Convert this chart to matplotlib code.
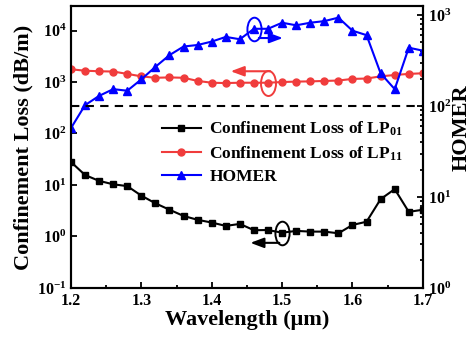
import numpy as np
import matplotlib
matplotlib.use("Agg")
import matplotlib.pyplot as plt
from matplotlib.path import Path
from matplotlib.transforms import Affine2D
from matplotlib.ticker import MultipleLocator, LogLocator, NullLocator

plt.rcParams['font.family'] = 'Liberation Serif'
plt.rcParams['font.weight'] = 'bold'
plt.rcParams['mathtext.fontset'] = 'custom'
plt.rcParams['mathtext.rm'] = 'Liberation Serif:bold'
plt.rcParams['mathtext.bf'] = 'Liberation Serif:bold'
plt.rcParams['mathtext.it'] = 'Liberation Serif:bold:italic'

# wavelength (um)
wl = [1.20, 1.22, 1.24, 1.26, 1.28, 1.30, 1.32, 1.34, 1.36, 1.38, 1.40, 1.42, 1.44,
      1.46, 1.48, 1.50, 1.52, 1.54, 1.56, 1.58, 1.60, 1.62, 1.64, 1.66, 1.68, 1.70]
# confinement loss LP01 (dB/m)
lp01 = [28, 15.6, 12, 10.3, 9.5, 6.2, 4.4, 3.3, 2.5, 2.1, 1.86, 1.6, 1.75,
        1.32, 1.33, 1.18, 1.28, 1.24, 1.24, 1.15, 1.67, 1.93, 5.3, 8.3, 3.0, 3.3]
# confinement loss LP11 (dB/m)
lp11 = [1770, 1660, 1620, 1600, 1440, 1290, 1210, 1230, 1210, 1050, 970, 955, 970,
        970, 970, 1000, 1020, 1030, 1050, 1070, 1150, 1170, 1290, 1370, 1440, 1480]
# HOMER
homer = [57, 102, 129, 153, 147, 196, 269, 362, 450, 468, 510, 574, 541,
         705, 705, 822, 770, 822, 856, 935, 672, 600, 228, 153, 437, 405]

fig = plt.figure(figsize=(4.73, 3.46), dpi=100)
ax = fig.add_axes([0.150, 0.168, 0.744, 0.815])
ax2 = ax.twinx()

red = '#f03c3c'
l1, = ax.plot(wl, lp01, '-s', color='black', ms=4.8, lw=1.5,
              label='Confinement Loss of LP$_{01}$')
l2, = ax.plot(wl, lp11, '-o', color=red, ms=5, lw=1.5,
              label='Confinement Loss of LP$_{11}$')
l3, = ax2.plot(wl, homer, '-^', color='#0000ff', ms=5.5, lw=1.5, label='HOMER')
ax2.axhline(100, color='black', ls='--', lw=1.5, dashes=(4, 3))

ax.set_yscale('log')
ax2.set_yscale('log')
ax.set_xlim(1.2, 1.7)
ax.set_ylim(0.1, 10**4.48)
ax2.set_ylim(1, 10**3.1)

ax.xaxis.set_major_locator(MultipleLocator(0.1))
ax.xaxis.set_minor_locator(MultipleLocator(0.05))
ax.xaxis.set_major_formatter(matplotlib.ticker.FormatStrFormatter('%.1f'))
ax.yaxis.set_major_locator(LogLocator(base=10, numticks=10))
ax.yaxis.set_minor_locator(NullLocator())
ax2.yaxis.set_major_locator(LogLocator(base=10, numticks=10))
ax2.yaxis.set_minor_locator(LogLocator(base=10, subs=np.arange(2, 10), numticks=10))

ax.tick_params(axis='both', which='both', direction='in', labelsize=11.5, width=1.3)
ax.tick_params(axis='both', which='major', length=4)
ax.tick_params(axis='x', which='minor', length=2.5)
ax2.tick_params(axis='y', which='both', direction='in', labelsize=11.5, width=1.3)
ax2.tick_params(axis='y', which='major', length=4)
ax2.tick_params(axis='y', which='minor', length=2)
for a in (ax, ax2):
    for s in a.spines.values():
        s.set_linewidth(1.5)

ax.set_xlabel('Wavelength (\u03bcm)', fontsize=16, fontweight='bold', labelpad=1)
ax.set_ylabel('Confinement Loss (dB/m)', fontsize=16, fontweight='bold', labelpad=2)
# right-axis label, placed so it stays inside the image
fig.text(462 / 473, 1 - 128 / 346, 'HOMER', rotation=90, fontsize=16,
         fontweight='bold', ha='center', va='center')

# ellipse markers and arrows
ell = Path.unit_circle().transformed(Affine2D().scale(0.6, 1.0))
ax2.plot([wl[13]], [homer[13]], marker=ell, ms=17, mfc='none', mec='#0000ff', mew=1.4)
ax.plot([wl[14]], [lp11[14]], marker=ell, ms=18, mfc='none', mec=red, mew=1.4)
ax.plot([wl[15]], [lp01[15]], marker=ell, ms=17, mfc='none', mec='black', mew=1.4)

ax2.annotate('', xy=(1.505, 558), xytext=(1.463, 558),
             arrowprops=dict(arrowstyle='-|>,head_length=0.8,head_width=0.3',
                             color='#0000ff', lw=1.5))
ax.annotate('', xy=(1.423, 1620), xytext=(1.487, 1620),
            arrowprops=dict(arrowstyle='-|>,head_length=0.8,head_width=0.3',
                            color=red, lw=1.5))
ax.annotate('', xy=(1.451, 0.75), xytext=(1.50, 0.75),
            arrowprops=dict(arrowstyle='-|>,head_length=0.8,head_width=0.3',
                            color='black', lw=1.5))

leg = ax.legend(handles=[l1, l2, l3], loc='upper left', bbox_to_anchor=(0.24, 0.62),
                frameon=False, fontsize=12.5, handlelength=2.2, handletextpad=0.5,
                labelspacing=0.35, borderaxespad=0)

fig.savefig('out.png', dpi=100)
